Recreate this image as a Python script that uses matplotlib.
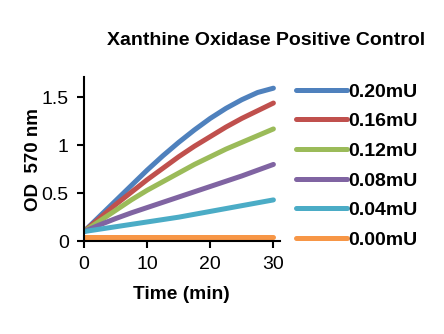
import matplotlib
matplotlib.use('Agg')

import matplotlib.pyplot as plt

plt.rcParams['font.family'] = ['Liberation Sans', 'DejaVu Sans']

# time points (min)
time = [0, 2.5, 5, 7.5, 10, 12.5, 15, 17.5, 20, 22.5, 25, 27.5, 30]

# OD 570 nm readings per enzyme amount
od_020 = [0.10, 0.26, 0.42, 0.58, 0.74, 0.89, 1.03, 1.16, 1.28, 1.385, 1.475, 1.55, 1.595]
od_016 = [0.10, 0.24, 0.38, 0.51, 0.64, 0.76, 0.88, 0.99, 1.09, 1.19, 1.28, 1.36, 1.44]
od_012 = [0.10, 0.21, 0.32, 0.43, 0.53, 0.62, 0.71, 0.80, 0.88, 0.96, 1.03, 1.10, 1.17]
od_008 = [0.10, 0.17, 0.235, 0.295, 0.35, 0.405, 0.46, 0.515, 0.57, 0.625, 0.68, 0.74, 0.80]
od_004 = [0.10, 0.125, 0.15, 0.175, 0.20, 0.225, 0.25, 0.28, 0.31, 0.34, 0.37, 0.40, 0.43]
od_000 = [0.04] * 13

labels = ['0.20mU', '0.16mU', '0.12mU', '0.08mU', '0.04mU', '0.00mU']
colors = ['#4F81BD', '#C0504D', '#9BBB59', '#8064A2', '#4BACC6', '#F79646']
series = [od_020, od_016, od_012, od_008, od_004, od_000]

fig = plt.figure(figsize=(4.44, 3.34), dpi=100)
ax = fig.add_axes([0.189, 0.278, 0.441, 0.491])

for y, c, lab in zip(series, colors, labels):
    ax.plot(time, y, color=c, linewidth=3.6, solid_capstyle='round', label=lab)

ax.set_xlim(0, 31)
ax.set_ylim(0, 1.71)
ax.set_xticks([0, 10, 20, 30])
ax.set_yticks([0, 0.5, 1, 1.5])
ax.set_yticklabels(['0', '0.5', '1', '1.5'])
ax.tick_params(labelsize=14, width=1.5, length=5, direction='out', pad=6)
for s in ['top', 'right']:
    ax.spines[s].set_visible(False)
for s in ['left', 'bottom']:
    ax.spines[s].set_linewidth(1.5)

ax.set_xlabel('Time (min)', fontsize=13.8, fontweight='bold', labelpad=9)
ax.set_ylabel('OD  570 nm', fontsize=13.5, fontweight='bold', labelpad=0)

fig.text(0.6, 0.88, 'Xanthine Oxidase Positive Control', ha='center', va='center',
         fontsize=14, fontweight='bold')

fig.legend(loc='upper left', bbox_to_anchor=(0.65, 0.775), frameon=False,
           prop={'size': 14, 'weight': 'bold'}, handlelength=2.6,
           handletextpad=0.05, labelspacing=0.62, borderaxespad=0)

fig.savefig('out.png', dpi=100)
